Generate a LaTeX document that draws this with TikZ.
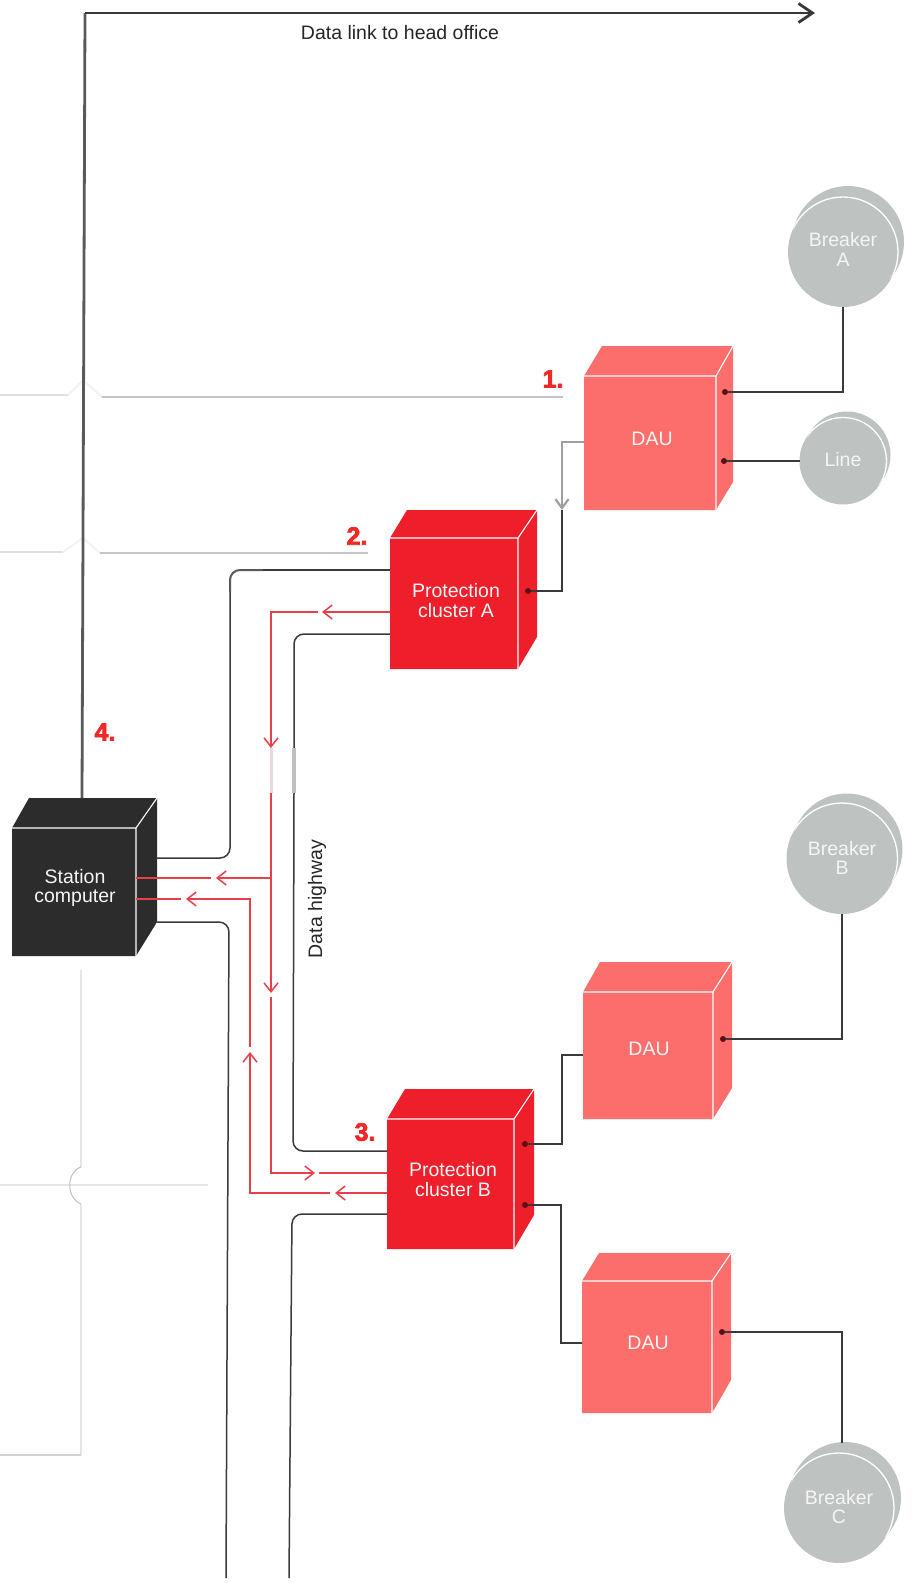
\documentclass[tikz,border=0pt]{standalone}
\usepackage{fontspec}
\setmainfont{Liberation Sans}
\newfontfamily\numfont[FakeBold=3]{Liberation Sans Bold}
\usetikzlibrary{arrows.meta}
\definecolor{daucol}{HTML}{FB6E6C}
\definecolor{pccol}{HTML}{EE1F2B}
\definecolor{stcol}{HTML}{2C2C2C}
\definecolor{bkcol}{HTML}{BEC3C1}
\definecolor{rline}{HTML}{E8404A}
\definecolor{bline}{HTML}{3A3A3A}
\definecolor{dotcol}{HTML}{5A1015}
\newcommand{\mycube}[9]{%
  \def\cubename{#1}%
  \edef\cA{#2}\edef\cB{#3}\edef\cC{#4}\edef\cD{#5}\edef\cE{#6}\edef\cF{#7}\edef\cG{#8}\edef\cH{#9}%
  \mycubeB
}
\newcommand{\mycubeB}[1]{%
  \fill[#1] (\cE,\cF) -- (\cG,\cF) -- (\cG,\cH) -- (\cC,\cD) -- (\cA,\cD) -- (\cA,\cB) -- cycle;
  \draw[cubeedge] (\cA,\cB) -- (\cC,\cB) -- (\cC,\cD) (\cC,\cB) -- (\cG,\cF);
  \node[boxface,minimum width={(\cC-\cA)*1pt},minimum height={(\cD-\cB)*1pt}] (\cubename) at ({(\cA+\cC)/2},{(\cB+\cD)/2}) {};
}
% \disc{name}{cx}{cy}{r}{sx}{sy}{sr}
\newcommand{\disc}[7]{%
  \node[discshape,minimum size={2*#7*1pt}] (#1s) at (#5,#6) {};
  \node[discshape,minimum size={2*#4*1pt}] (#1) at (#2,#3) {};
  \begin{scope}
    \clip (#5,#6) circle (#7pt);
    \draw[white,line width=1.3pt] (#2,#3) circle (#4pt);
  \end{scope}
}
\tikzset{
  cubeedge/.style={white,line width=1.1pt,line join=miter},
  boxface/.style={rectangle,inner sep=0pt,outer sep=0pt},
  discshape/.style={circle,fill=bkcol,inner sep=0pt,outer sep=0pt},
  wlabel/.style={inner sep=0pt,yshift=-1pt,font=\fontsize{19.5}{22}\selectfont,text=white!92!gray},
  klabel/.style={inner sep=0pt,font=\fontsize{19.5}{22}\selectfont,text=black!85},
  numlabel/.style={inner sep=0pt,font=\numfont\fontsize{25}{27}\selectfont,text=pccol!90!orange},
  blk/.style={bline,line width=1.5pt,rounded corners=10pt},
  wire/.style={bline,line width=1.6pt},
  red/.style={rline,line width=1.5pt},
  redarrow/.style={rline,line width=1.5pt,-{Straight Barb[length=9pt,width=14pt,line width=1.5pt]}},
  faint/.style={gray!45,line width=1.2pt},
  fainter/.style={gray!25,line width=1.4pt},
  port/.style={circle,fill=dotcol,inner sep=0pt,minimum size=6pt},
}
\begin{document}
\begin{tikzpicture}[x=1pt,y=-1pt]
\useasboundingbox (0,0) rectangle (911,1583);
\fill[white] (0,0) rectangle (911,1583);

% faded background lines
\coordinate (f1a) at (0,395); \coordinate (f1b) at (68,395); \coordinate (f1c) at (83,380); \coordinate (f1d) at (102,397);
\coordinate (f2a) at (0,552); \coordinate (f2b) at (63,552); \coordinate (f2c) at (83,538); \coordinate (f2d) at (100,553);
\coordinate (f1e) at (563,397); \coordinate (f2e) at (368,553);
\draw[fainter] (f1a) -- (f1b) (f2a) -- (f2b);
\draw[gray!10,line width=2pt] (f1b) -- (f1c) -- (f1d) (f2b) -- (f2c) -- (f2d);
\draw[faint] (f1d) -- (f1e) (f2d) -- (f2e);

\coordinate (v1) at (81,970); \coordinate (v2) at (81,1167); \coordinate (v3) at (81,1204);
\coordinate (v4) at (81,1455); \coordinate (v5) at (0,1455);
\coordinate (h1) at (0,1185); \coordinate (h2) at (208,1185);
\draw[gray!20,line width=1.8pt] (v1) -- (v2) (v3) -- (v4);
\draw[gray!35,line width=1.2pt] (v4) -- (v5);
\draw[gray!20,line width=1.6pt] (h1) -- (h2);
\draw[gray!50,line width=1pt] (v2) .. controls (66,1172) and (66,1198) .. (v3);

% cubes
\mycube{sc}{12}{828}{136}{956}{29}{798}{157}{922}{stcol}
\mycube{pca}{390}{538}{518}{669}{407}{510}{537}{637}{pccol}
\mycube{pcb}{387}{1119}{514}{1249}{405}{1089}{534}{1215}{pccol}
\mycube{dau}{584}{376}{716}{510}{602}{346}{733}{482}{daucol}
\mycube{daub}{583}{992}{713}{1119}{600}{962}{732}{1088}{daucol}
\mycube{dauc}{582}{1281}{712}{1413}{599}{1253}{731}{1380}{daucol}

% discs
\disc{ba}{843}{252}{55}{848}{242}{56}
\disc{li}{843}{461}{43.5}{847}{455}{43.5}
\disc{bb}{842}{858.5}{55.5}{847}{849}{55.5}
\disc{bc}{839}{1508}{55}{845}{1498}{56}

% ports
\node[port] (p1) at (725,392) {};
\node[port] (p2) at (724,461) {};
\node[port] (p3) at (528,591) {};
\node[port] (p4) at (525,1144) {};
\node[port] (p5) at (525,1205) {};
\node[port] (p6) at (723,1039) {};
\node[port] (p7) at (722,1332) {};

% wires with ports
\draw[wire] (p1) -| (ba.south);
\draw[wire] (p2) -- (li.west);
\draw[wire] (p6) -| (bb.south);
\coordinate (bctop) at (842,1443);
\draw[wire] (p7) -| (bctop);
\draw[wire,line width=1.3pt] (p4) -| (562,1055) -- (daub.west |- 0,1055);
\draw[wire,line width=1.3pt] (p5) -| (561,1343) -- (dauc.west |- 0,1343);
\coordinate (gtip) at (562,510);
\draw[wire] (p3) -| (gtip);
\draw[gray!75,line width=2.2pt,-{Straight Barb[length=9pt,width=13pt,line width=2.2pt]}] (dau.west |- 0,442) -| (gtip);

% data link
\coordinate (top1) at (85,13);
\coordinate (top2) at (815,13);
\coordinate (top0) at (82,798);
\draw[black!65,line width=2.8pt] (top0) -- (top1);
\draw[black!78,line width=2.4pt,-{Straight Barb[length=14pt,width=19pt,line width=2.8pt]}] (top1) -- (top2);

% data highway (black)
\coordinate (g1) at (263,570);
\coordinate (g2) at (230,592);
\coordinate (lb1) at (226,1578);
\coordinate (lb2) at (289,1578);
\coordinate (hw1) at (294,748);
\coordinate (hw2) at (294,793);
\coordinate (rw1) at (271,748);
\coordinate (rw2) at (271,793);
\draw[blk] (pca.west |- 0,570) -- (g1);
\draw[gray!70!black,line width=2pt,rounded corners=10pt] (g1) -| (g2);
\draw[blk] (g2) -- (230,858) -- (157,858);
\draw[blk] (pca.west |- 0,634) -| (hw1);
\draw[gray!50,line width=3.4pt] (hw1) -- (hw2);
\draw[blk] (hw2) -- (293,1151) -- (pcb.west |- 0,1151);
\draw[blk] (157,922) -- (229,922) -- (lb1);
\draw[blk] (pcb.west |- 0,1214) -- (292,1214) -- (lb2);

% red lines
\coordinate (a1) at (318,612); \coordinate (a1t) at (322,612);
\draw[redarrow] (pca.west |- 0,612) -- (a1t);
\draw[redarrow] (a1) -| (rw1);
\draw[magenta!22!gray!28,line width=3pt] (rw1) -- (rw2);
\coordinate (a2) at (271,993); \coordinate (a2s) at (271,997);
\draw[redarrow] (rw2) -- (a2);
\coordinate (a3t) at (315,1173); \coordinate (a3s) at (319,1173);
\coordinate (a2c) at (271,1173);
\draw[redarrow] (a2s) -- (a2c) -- (a3t);
\draw[red] (a3s) -- (pcb.west |- 0,1173);
\coordinate (b1) at (271,878); \coordinate (b1t) at (216,878); \coordinate (b1s) at (211,878);
\draw[redarrow] (b1) -- (b1t);
\draw[red] (b1s) -- (sc.east |- 0,878);
\coordinate (c1) at (335,1193); \coordinate (c1s) at (330,1193);
\draw[redarrow] (pcb.west |- 0,1193) -- (c1);
\coordinate (c2) at (250,1193); \coordinate (c3) at (250,1052); \coordinate (c4) at (250,1047); \coordinate (c5) at (250,899);
\draw[redarrow] (c1s) -- (c2) -- (c3);
\coordinate (c6) at (186,899); \coordinate (c7) at (181,899);
\draw[redarrow] (c4) -- (c5) -- (c6);
\draw[red] (c7) -- (sc.east |- 0,899);

% labels
\node[klabel] (t1) at (400,33) {Data link to head office};
\node[klabel,rotate=90] (t2) at (317,899) {Data highway};
\node[wlabel] (s1) at (75,876) {Station};
\node[wlabel] (s2) at (75,897) {computer};
\node[wlabel] (pa1) at (456,590) {Protection};
\node[wlabel] (pa2) at (456,610) {cluster A};
\node[wlabel] (pb1) at (453,1169) {Protection};
\node[wlabel] (pb2) at (453,1189) {cluster B};
\node[wlabel] (d1) at (652,438) {DAU};
\node[wlabel] (d2) at (649,1048) {DAU};
\node[wlabel] (d3) at (648,1342) {DAU};
\node[wlabel] (ba1) at (843,239) {Breaker};
\node[wlabel] (ba2) at (843,259) {A};
\node[wlabel] (li1) at (843,459) {Line};
\node[wlabel] (bb1) at (842,848) {Breaker};
\node[wlabel] (bb2) at (842,867) {B};
\node[wlabel] (bc1) at (839,1497) {Breaker};
\node[wlabel] (bc2) at (839,1516) {C};
\node[numlabel] (n1) at (553,379) {1.};
\node[numlabel] (n2) at (357,536) {2.};
\node[numlabel] (n3) at (365,1132) {3.};
\node[numlabel] (n4) at (105,732) {4.};
\end{tikzpicture}
\end{document}
